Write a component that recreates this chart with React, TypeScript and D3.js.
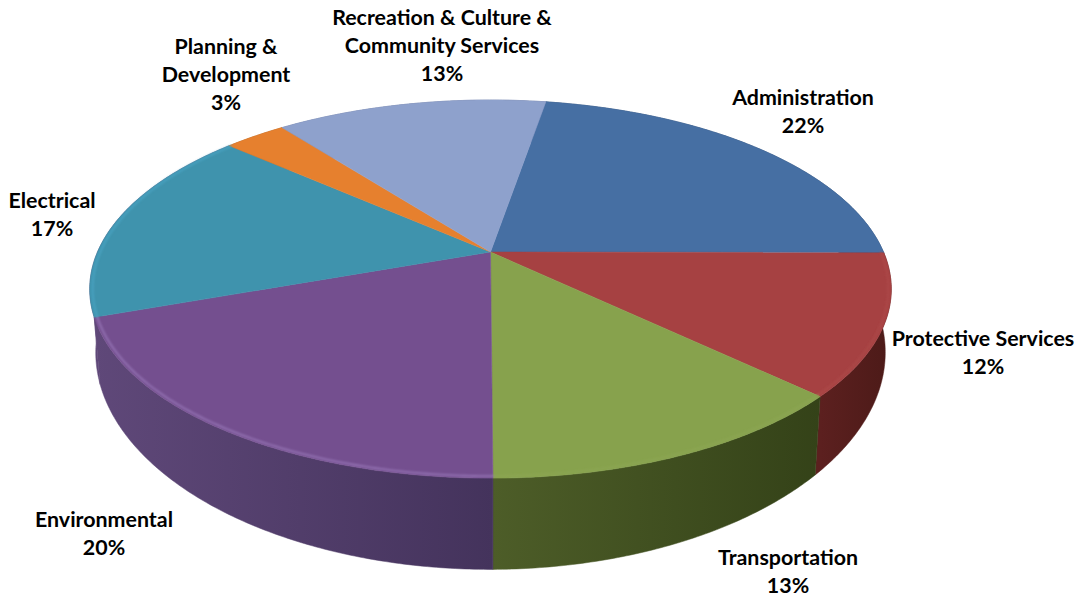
import React from "react";
import * as d3 from "d3";

// Budget shares, clockwise from the top of the disc
const categories = [
  "Administration",
  "Protective Services",
  "Transportation",
  "Environmental",
  "Electrical",
  "Planning & Development",
  "Recreation & Culture & Community Services",
];
const shares = [22, 12, 13, 20, 17, 3, 13];

// Colours per slice
const topColors = ["#466fa3", "#a64142", "#87a24d", "#744f8f", "#3f93ad", "#e6802e", "#8ea1cc"];
const sideStartColors = ["#2c4a70", "#5c201f", "#4d5d28", "#5f4879", "#5f4879", "#a05a20", "#65749a"];
const sideEndColors = ["#2c4a70", "#4c1a18", "#344218", "#44335c", "#5f4879", "#a05a20", "#65749a"];
const rimColors = ["#466fa3", "#ad4a49", "#8ca653", "#9473b4", "#49a3c2", "#e6802e", "#8ea1cc"];

// Label lines and where each block sits: centre x, first line's baseline
const labelLines = [
  ["Administration", "22%"],
  ["Protective Services", "12%"],
  ["Transportation", "13%"],
  ["Environmental", "20%"],
  ["Electrical", "17%"],
  ["Planning &", "Development", "3%"],
  ["Recreation & Culture &", "Community Services", "13%"],
];
const labelAnchors: [number, number][] = [
  [803, 105],
  [983, 346],
  [788, 565],
  [104, 527],
  [52, 208],
  [226, 54],
  [442, 25],
];

const WIDTH = 1079;
const HEIGHT = 601;
const LINE_HEIGHT = 28;

// Perspective projection of the pie's unit disc onto the page
const CX = 490.5;
const CY = 252;
const RADIUS_X = 393;
const RADIUS_Y = 181.8;
const TILT = 0.196;
const DEPTH = 59;
const BASE_SHRINK = 0.985;
const START_ANGLE = (10 * Math.PI) / 180;
// The apex sits a little off the disc's optical centre, which turns the spokes slightly
const TURN_SIN = (1 * Math.PI) / 180;
const TURN_COS = (0.5 * Math.PI) / 180;

function project(theta: number, r = 1): [number, number] {
  const t = theta + TURN_SIN * Math.sin(theta) - TURN_COS * Math.cos(theta);
  const sx = Math.sin(t) * r;
  const sz = Math.cos(t) * r;
  const w = 1 + TILT * sz;
  return [CX + (RADIUS_X * sx) / w, CY - (RADIUS_Y * sz) / w];
}

function projectBase(theta: number): [number, number] {
  const [x, y] = project(theta);
  const w = 1 + TILT * Math.cos(theta);
  return [CX + (x - CX) * BASE_SHRINK, y + DEPTH / (w * w)];
}

function sampleAngles(a: number, b: number): number[] {
  const n = Math.max(2, Math.ceil((b - a) / 0.01));
  return d3.range(n + 1).map((i) => a + ((b - a) * i) / n);
}

const pieLayout = d3
  .pie<number>()
  .sort(null)
  .startAngle(START_ANGLE)
  .endAngle(START_ANGLE + 2 * Math.PI);

const pathOf = d3.line<[number, number]>();

export default function App() {
  const arcs = pieLayout(shares);
  const gradientRange = (a: number, b: number) => {
    const pts = sampleAngles(a, b).map((t) => project(t)[0]);
    return d3.extent(pts) as [number, number];
  };

  return (
    <svg
      width={WIDTH}
      height={HEIGHT}
      viewBox={`0 0 ${WIDTH} ${HEIGHT}`}
      style={{ position: "absolute", left: 0, top: 0, display: "block", background: "#fff" }}
    >
      <defs>
        <filter id="rimSoft" x="-5%" y="-5%" width="110%" height="110%">
          <feGaussianBlur stdDeviation="0.9" />
        </filter>
        {arcs.map((d, i) => {
          const [x0, x1] = gradientRange(d.startAngle, d.endAngle);
          return (
            <linearGradient
              key={categories[i]}
              id={`side-${i}`}
              gradientUnits="userSpaceOnUse"
              x1={x0}
              x2={x1}
              y1={0}
              y2={0}
            >
              <stop offset="0%" stopColor={sideStartColors[i]} />
              <stop offset="100%" stopColor={sideEndColors[i]} />
            </linearGradient>
          );
        })}
      </defs>

      {/* outer wall of the disc, covered at the back by the top face */}
      <g>
        {arcs.map((d, i) => {
          const angles = sampleAngles(d.startAngle, d.endAngle);
          const pts = [
            ...angles.map((t) => project(t)),
            ...angles.slice().reverse().map((t) => projectBase(t)),
          ];
          return (
            <path
              key={categories[i]}
              d={(pathOf(pts) ?? "") + "Z"}
              fill={`url(#side-${i})`}
              stroke={`url(#side-${i})`}
              strokeWidth={0.5}
            />
          );
        })}
      </g>

      {/* top face */}
      <g>
        {arcs.map((d, i) => {
          const pts = [[CX, CY] as [number, number], ...sampleAngles(d.startAngle, d.endAngle).map((t) => project(t))];
          return (
            <path
              key={categories[i]}
              d={(pathOf(pts) ?? "") + "Z"}
              fill={topColors[i]}
              stroke={topColors[i]}
              strokeWidth={0.5}
            />
          );
        })}
      </g>

      {/* bevel highlight along the near rim */}
      <g filter="url(#rimSoft)" fill="none" strokeWidth={1.8} strokeLinecap="round">
        {arcs.map((d, i) => {
          const pts = sampleAngles(d.startAngle, d.endAngle).map((t) => project(t, 0.993));
          return Math.cos((d.startAngle + d.endAngle) / 2) < 0.4 ? (
            <path key={categories[i]} d={pathOf(pts) ?? ""} stroke={rimColors[i]} />
          ) : null;
        })}
      </g>

      {/* labels */}
      <g
        fontFamily="Lato, 'Open Sans', sans-serif"
        fontWeight={700}
        fontSize={21.4}
        textAnchor="middle"
        fill="#000"
      >
        {labelLines.map((lines, i) => (
          <text key={categories[i]} x={labelAnchors[i][0]} y={labelAnchors[i][1]}>
            {lines.map((line, j) => (
              <tspan key={line} x={labelAnchors[i][0]} y={labelAnchors[i][1] + j * LINE_HEIGHT}>
                {line}
              </tspan>
            ))}
          </text>
        ))}
      </g>
    </svg>
  );
}
